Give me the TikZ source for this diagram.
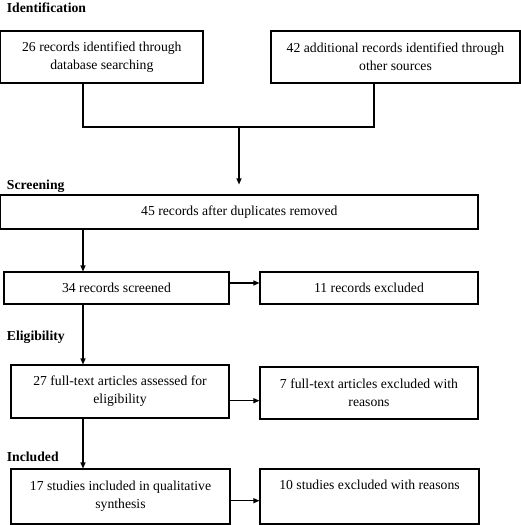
\documentclass[tikz,border=0pt]{standalone}
\usepackage{fontspec}
\setmainfont{Liberation Serif}
\usetikzlibrary{arrows.meta}
\begin{document}
\begin{tikzpicture}[x=1pt,y=1pt,
  font=\fontsize{13.7}{18}\selectfont,
  box/.style={draw,line width=1.1pt,inner sep=0pt,align=center},
  arr/.style={line width=1.1pt,-{Triangle[length=6pt,width=5pt]}},
  lin/.style={line width=1.1pt},
  head/.style={anchor=base west,inner sep=0pt,font=\fontsize{13.7}{18}\selectfont\bfseries}]
\useasboundingbox (0,0) rectangle (521,-525);
% headings
\node[head] (h1) at (6.7,-12.7) {Identification};
\node[head] (h2) at (6.7,-189) {Screening};
\node[head] (h3) at (6.7,-340) {Eligibility};
\node[head] (h4) at (6.7,-461) {Included};
% boxes
\node[box,minimum width=202.3,minimum height=52] (A) at (101.85,-57) {26 records identified through\\database searching};
\node[box,minimum width=249,minimum height=52] (B) at (395.5,-57) {42 additional records identified through\\other sources};
\node[box,minimum width=477.3,minimum height=34] (C) at (239.35,-212) {45 records after duplicates removed};
\node[box,minimum width=225,minimum height=32] (D) at (116.5,-288) {34 records screened};
\node[box,minimum width=218,minimum height=32] (E) at (369,-288) {11 records excluded};
\node[box,minimum width=218,minimum height=53] (F) at (120,-391.5) {27 full-text articles assessed for\\eligibility};
\node[box,minimum width=218,minimum height=52] (G) at (369,-393) {7 full-text articles excluded with\\reasons};
\node[box,minimum width=219,minimum height=55] (H) at (120.5,-496.5) {17 studies included in qualitative\\synthesis};
\node[box,minimum width=219,minimum height=55] (I) at (369.5,-496.5) {10 studies excluded with reasons\\\strut};
% connector points
\coordinate (j1) at (83,-127);
\coordinate (j2) at (374,-127);
\coordinate (jm) at (239,-127);
\coordinate (col) at (83,0);
\coordinate (r1) at (0,-283);
\coordinate (r2) at (0,-400.7);
\coordinate (r3) at (0,-500.7);
% connectors
\draw[lin] (A.south -| j1) -- (j1) -- (j2) -- (B.south -| j2);
\draw[arr,shorten >=10pt] (jm) -- (C.north -| jm);
\draw[arr] (C.south -| col) -- (D.north -| col);
\draw[arr] (D.south -| col) -- (F.north -| col);
\draw[arr] (F.south -| col) -- (H.north -| col);
\draw[arr] (D.east |- r1) -- (E.west |- r1);
\draw[arr] (F.east |- r2) -- (G.west |- r2);
\draw[arr] (H.east |- r3) -- (I.west |- r3);
\end{tikzpicture}
\end{document}
